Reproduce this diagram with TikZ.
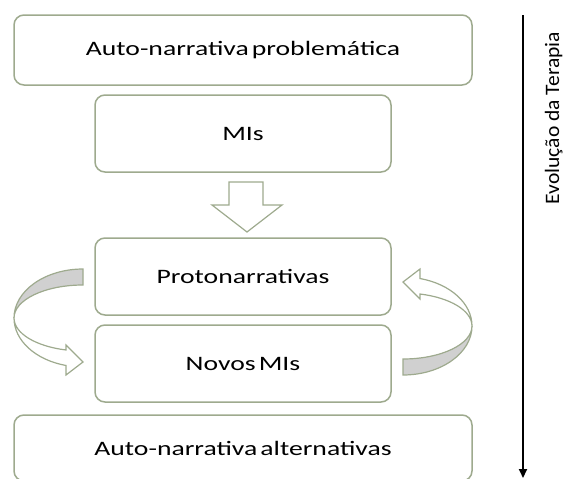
\documentclass[tikz,border=0pt]{standalone}
\usepackage{fontspec}
\setmainfont{Carlito}
\newfontfamily\boxfont[FakeStretch=1.35, WordSpace=0.5]{Carlito}
\newfontfamily\sidefont[FakeStretch=1.05]{Carlito}
\usetikzlibrary{arrows.meta}
\definecolor{edgegreen}{RGB}{158,170,142}
\definecolor{bandgray}{RGB}{208,208,208}
\begin{document}
\begin{tikzpicture}[x=1pt,y=1pt,
  box/.style={draw=edgegreen, line width=1.5pt, rounded corners=10pt, fill=white, inner sep=0pt,
    font=\boxfont\fontsize{20.5}{24}\selectfont},
  wide/.style={box, minimum width=458pt, minimum height=70pt},
  mid/.style={box, minimum width=296pt, minimum height=77pt},
  hollow/.style={draw=edgegreen, line width=1.2pt, fill=white, line join=miter},
  band/.style={draw=edgegreen, line width=1.2pt, fill=bandgray},
  evoarrow/.style={line width=2pt, -{Triangle[length=9pt,width=8pt]}}]
\useasboundingbox (0,0) rectangle (565,-479);
\clip (0,0) rectangle (565,-479);
% boxes
\node[wide] (top) at (243,-50) {Auto-narrativa problemática};
\node[mid] (mis) at (243,-133.5) {MIs};
\node[mid] (proto) at (243,-276.5) {Protonarrativas};
\node[mid] (novos) at (243,-363.5) {Novos MIs};
\node[wide, minimum height=66pt] (alt) at (243,-448) {Auto-narrativa alternativas};
% hollow down arrow
\draw[hollow] (229,-182) -- (263,-182) -- (263,-205) -- (282,-205) -- (247,-232) -- (212,-205) -- (229,-205) -- cycle;
% left curved arrow
\begin{scope}[shift={(83,-318)}]
  \draw[band] (0,49) arc[start angle=90,end angle=180,x radius=69,y radius=49]
    arc[start angle=180,end angle=90,x radius=69,y radius=33] -- cycle;
  \draw[hollow] (-69,0) arc[start angle=180,end angle=255.8,x radius=69,y radius=49]
    -- (-17,-57) -- (0,-44) -- (-17,-27) -- (-16.9,-32)
    arc[start angle=255.8,end angle=180,x radius=69,y radius=33] -- cycle;
\end{scope}
% right curved arrow
\begin{scope}[shift={(403,-326)}, rotate=180]
  \draw[band] (0,49) arc[start angle=90,end angle=180,x radius=69,y radius=49]
    arc[start angle=180,end angle=90,x radius=69,y radius=33] -- cycle;
  \draw[hollow] (-69,0) arc[start angle=180,end angle=255.8,x radius=69,y radius=49]
    -- (-17,-57) -- (0,-44) -- (-17,-27) -- (-16.9,-32)
    arc[start angle=255.8,end angle=180,x radius=69,y radius=33] -- cycle;
\end{scope}
% evolution arrow
\coordinate (evostart) at (523,-15);
\coordinate (evoend) at (523,-478);
\draw[evoarrow] (evostart) -- (evoend);
\node[rotate=90, anchor=base, inner sep=0pt, font=\sidefont\fontsize{20.5}{25}\selectfont] (evo) at (559,-118) {Evolução da Terapia};
\end{tikzpicture}
\end{document}
